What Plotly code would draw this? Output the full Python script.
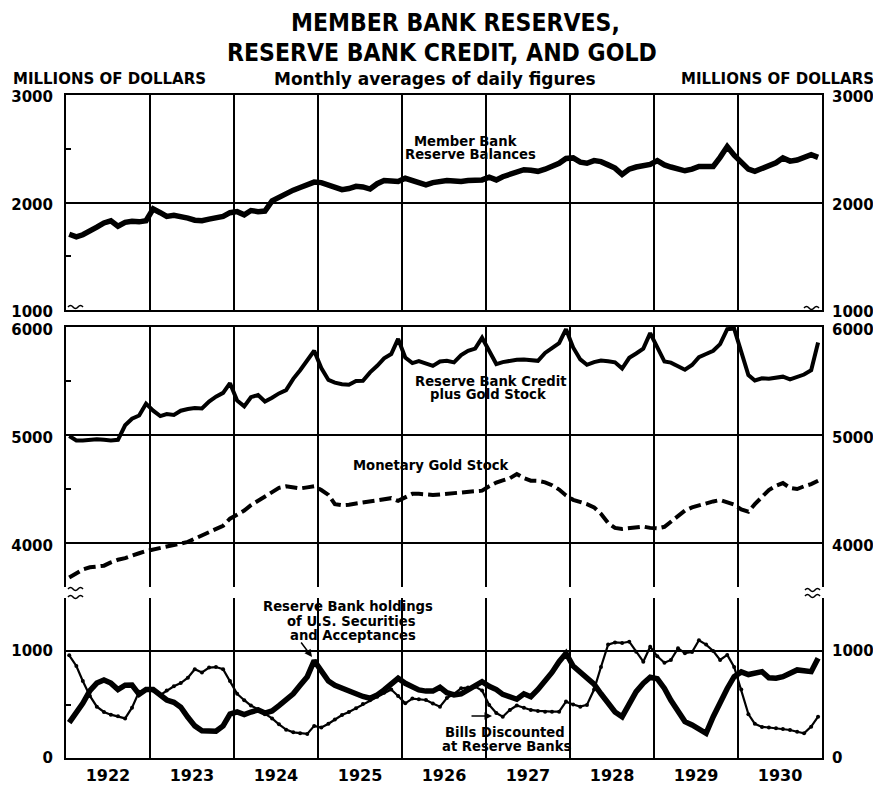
import plotly.graph_objects as go

# ---------------- data (millions of dollars, monthly averages 1922-1930) ----------------
years = list(range(1922, 1931))
months = [f"{y}-{m:02d}-15" for y in years for m in range(1, 13)]

member_reserves = [
    1705, 1680, 1700, 1730, 1770, 1810, 1830, 1780, 1815, 1825, 1820, 1830,   # 1922
    1940, 1905, 1870, 1880, 1870, 1855, 1835, 1830, 1845, 1855, 1870, 1905,   # 1923
    1915, 1885, 1925, 1915, 1920, 2015, 2050, 2080, 2115, 2140, 2165, 2190,   # 1924
    2185, 2160, 2140, 2120, 2130, 2150, 2145, 2125, 2175, 2205, 2200, 2195,   # 1925
    2225, 2200, 2180, 2165, 2185, 2200, 2205, 2200, 2195, 2205, 2205, 2210,   # 1926
    2235, 2210, 2240, 2265, 2290, 2305, 2300, 2290, 2310, 2335, 2365, 2410,   # 1927
    2415, 2375, 2365, 2390, 2380, 2350, 2320, 2260, 2310, 2330, 2345, 2355,   # 1928
    2390, 2350, 2330, 2310, 2295, 2310, 2335, 2335, 2335, 2420, 2520, 2440,   # 1929
    2380, 2310, 2290, 2320, 2335, 2370, 2415, 2385, 2395, 2420, 2445, 2420,   # 1930
]

credit_plus_gold = [
    4990, 4950, 4950, 4957, 4960, 4955, 4950, 4955, 5090, 5150, 5180, 5290,
    5225, 5175, 5194, 5185, 5225, 5240, 5250, 5245, 5310, 5355, 5390, 5480,
    5320, 5265, 5350, 5370, 5310, 5345, 5385, 5415, 5520, 5600, 5690, 5780,
    5620, 5510, 5485, 5470, 5465, 5500, 5502, 5580, 5641, 5710, 5750, 5890,
    5718, 5666, 5685, 5660, 5640, 5680, 5687, 5672, 5740, 5780, 5800, 5900,
    5770, 5657, 5675, 5687, 5697, 5700, 5690, 5687, 5760, 5800, 5850, 5980,
    5811, 5700, 5650, 5675, 5690, 5683, 5673, 5615, 5715, 5755, 5800, 5943,
    5820, 5680, 5670, 5640, 5604, 5648, 5720, 5750, 5780, 5842, 5980, 5985,
    5760, 5555, 5505, 5525, 5520, 5530, 5540, 5515, 5535, 5560, 5600, 5857,
]

gold_stock = [
    3680, 3720, 3755, 3775, 3785, 3790, 3820, 3845, 3860, 3885, 3905, 3925,
    3940, 3955, 3968, 3975, 3990, 4010, 4040, 4070, 4100, 4130, 4160, 4225,
    4260, 4300, 4350, 4390, 4430, 4470, 4510, 4525, 4515, 4505, 4515, 4525,
    4490, 4445, 4360, 4350, 4355, 4365, 4375, 4385, 4395, 4405, 4415, 4390,
    4420, 4455, 4455, 4450, 4445, 4450, 4455, 4460, 4462, 4470, 4475, 4485,
    4525, 4560, 4580, 4600, 4639, 4600, 4577, 4575, 4562, 4535, 4495, 4440,
    4400, 4380, 4360, 4330, 4270, 4185, 4140, 4130, 4135, 4145, 4152, 4140,
    4135, 4150, 4195, 4250, 4300, 4330, 4350, 4371, 4385, 4398, 4380, 4355,
    4310, 4290, 4360, 4425, 4490, 4530, 4555, 4510, 4500, 4525, 4545, 4577,
]

securities_acceptances = [
    330, 420, 511, 630, 700, 729, 700, 640, 680, 682, 595, 640,
    640, 589, 542, 520, 475, 380, 300, 255, 246, 250, 300, 410,
    430, 405, 430, 449, 420, 440, 490, 540, 600, 680, 760, 910,
    820, 720, 680, 651, 630, 600, 575, 558, 590, 636, 690, 745,
    698, 670, 636, 625, 625, 660, 610, 589, 600, 636, 670, 713,
    670, 640, 595, 570, 549, 600, 573, 640, 720, 800, 900, 979,
    860, 800, 745, 690, 600, 520, 430, 386, 500, 620, 698, 755,
    740, 650, 540, 440, 340, 309, 270, 231, 386, 520, 650, 760,
    805, 780, 790, 807, 750, 745, 760, 790, 823, 815, 807, 932,
]

bills_discounted = [
    960, 860, 720, 580, 480, 430, 405, 390, 370, 470, 620, 640,
    630, 589, 630, 670, 700, 750, 830, 800, 845, 850, 830, 720,
    600, 540, 490, 455, 410, 370, 315, 265, 240, 231, 225, 300,
    285, 320, 360, 402, 430, 465, 505, 540, 573, 610, 640, 580,
    511, 555, 550, 542, 510, 480, 560, 600, 651, 660, 667, 630,
    496, 420, 386, 449, 490, 470, 449, 440, 433, 433, 433, 527,
    500, 480, 496, 640, 850, 1060, 1080, 1075, 1087, 994, 900, 1040,
    950, 890, 916, 1025, 980, 990, 1100, 1060, 1000, 916, 963, 850,
    640, 410, 320, 290, 285, 278, 270, 262, 245, 231, 293, 386,
]

top_ticks = [1000, 2000, 3000]
mid_ticks = [4000, 5000, 6000]
low_ticks = [0, 1000]

# ---------------- layout geometry ----------------
# page coordinates (the browser page adds an 8px body margin around the figure)
OFF = 8
PAGE_W, PAGE_H = 881, 785
W, H = PAGE_W - OFF, PAGE_H - OFF
L, R, T, B = 66, 822, 95, 758          # plot area in page pixels


def px(x):
    return (x - L) / (R - L)


def py(y):
    return (B - y) / (B - T)


INK = "black"
NUM_FONT = dict(family="DejaVu Sans", size=15, color=INK, weight="bold")
YEAR_FONT = dict(family="DejaVu Sans", size=16, color=INK, weight="bold")
LBL_FONT = dict(family="DejaVu Sans", size=13.2, color=INK, weight="bold")

fig = go.Figure()

fig.add_trace(go.Scatter(x=months, y=member_reserves, xaxis="x", yaxis="y",
                         mode="lines", line=dict(color=INK, width=5.5), hoverinfo="skip"))
fig.add_trace(go.Scatter(x=months, y=credit_plus_gold, xaxis="x2", yaxis="y2",
                         mode="lines", line=dict(color=INK, width=4), hoverinfo="skip"))
fig.add_trace(go.Scatter(x=months, y=gold_stock, xaxis="x2", yaxis="y2",
                         mode="lines", line=dict(color=INK, width=4, dash="12px,5px"),
                         hoverinfo="skip"))
fig.add_trace(go.Scatter(x=months, y=bills_discounted, xaxis="x3", yaxis="y3",
                         mode="lines+markers", line=dict(color=INK, width=2.2),
                         marker=dict(color=INK, size=4), hoverinfo="skip"))
fig.add_trace(go.Scatter(x=months, y=securities_acceptances, xaxis="x3", yaxis="y3",
                         mode="lines", line=dict(color=INK, width=5.5), hoverinfo="skip"))

# invisible copies so that the right-hand (mirrored) value axes are drawn
for series, ax_x, ax_y in [(member_reserves, "x", "y4"), (credit_plus_gold, "x2", "y5"),
                           (securities_acceptances, "x3", "y6")]:
    fig.add_trace(go.Scatter(x=months, y=series, xaxis=ax_x, yaxis=ax_y, mode="lines",
                             opacity=0, line=dict(width=0.1), hoverinfo="skip"))

x_common = dict(type="date", range=["1922-01-01", "1931-01-01"], dtick="M12",
                tick0="1922-01-01", showgrid=True, gridcolor=INK, gridwidth=1.5,
                zeroline=False, ticks="", linecolor=INK, linewidth=2, automargin=False)

dom_top = [py(310), 1.0]
dom_mid = [py(587), py(327)]
dom_low = [0.0, py(598)]

rng_top = [1000, 3000]
rng_mid = [4000 - (587 - 543) / 108 * 1000, 6000]
rng_low = [0, (B - 598) / 107 * 1000]

y_common = dict(showgrid=True, gridcolor=INK, gridwidth=1.5, zeroline=False,
                showline=True, mirror=True, linecolor=INK, linewidth=2, ticks="",
                tickfont=NUM_FONT, ticklabelstandoff=8, automargin=False)
y_right = dict(side="right", showgrid=False, zeroline=False, ticks="", showline=False,
               tickfont=NUM_FONT, ticklabelstandoff=9, automargin=False)
minor_style = dict(ticks="inside", ticklen=5, tickcolor=INK, tickwidth=1.5, showgrid=False)

fig.update_layout(
    width=W, height=H,
    margin=dict(l=L - OFF, r=W - (R - OFF), t=T - OFF, b=H - (B - OFF), pad=0,
                autoexpand=False),
    paper_bgcolor="white", plot_bgcolor="white",
    showlegend=False,
    xaxis=dict(**x_common, anchor="y", showline=True, mirror=True, showticklabels=False),
    xaxis2=dict(**x_common, anchor="y2", matches="x", side="top", showline=True,
                mirror=False, showticklabels=False),
    xaxis3=dict(**x_common, anchor="y3", matches="x", showline=True, mirror=False,
                showticklabels=True, ticklabelmode="period", tickformat="%Y",
                tickfont=YEAR_FONT, ticklabelstandoff=2),
    yaxis=dict(**y_common, domain=dom_top, range=rng_top, tickvals=top_ticks, anchor="x",
               ticklabelshift=2, minor=dict(tickvals=[1500, 2500], **minor_style)),
    yaxis2=dict(**y_common, domain=dom_mid, range=rng_mid, tickvals=mid_ticks, anchor="x2",
                ticklabelshift=3, minor=dict(tickvals=[4500, 5500], **minor_style)),
    yaxis3=dict(**y_common, domain=dom_low, range=rng_low, tickvals=low_ticks, anchor="x3",
                minor=dict(tickvals=[500], **minor_style)),
    yaxis4=dict(**y_right, overlaying="y", anchor="x", range=rng_top, tickvals=top_ticks,
                ticklabelshift=2),
    yaxis5=dict(**y_right, overlaying="y2", anchor="x2", range=rng_mid, tickvals=mid_ticks,
                ticklabelshift=3),
    yaxis6=dict(**y_right, overlaying="y3", anchor="x3", range=rng_low, tickvals=low_ticks),
)

TITLE_FONT = dict(family="DejaVu Sans Condensed", size=24.5, color=INK, weight="bold")
HEAD_FONT = dict(family="DejaVu Sans", size=15, color=INK, weight="bold")
SUB_FONT = dict(family="DejaVu Sans", size=17, color=INK, weight="bold")

ann = [
    dict(text="MEMBER BANK RESERVES,", x=px(455), y=py(23), font=TITLE_FONT),
    dict(text="RESERVE BANK CREDIT, AND GOLD", x=px(442), y=py(52), font=TITLE_FONT),
    dict(text="MILLIONS OF DOLLARS", x=px(12), y=py(79), xanchor="left", font=HEAD_FONT),
    dict(text="Monthly averages of daily figures", x=px(435), y=py(79), font=SUB_FONT),
    dict(text="MILLIONS OF DOLLARS", x=px(875), y=py(79), xanchor="right", font=HEAD_FONT),
    # series labels, one annotation per line (the original sets them tightly)
    dict(text="Member Bank", x=px(466), y=py(141), font=LBL_FONT),
    dict(text="Reserve Balances", x=px(470), y=py(154), font=LBL_FONT),
    dict(text="Reserve Bank Credit", x=px(491), y=py(381), font=LBL_FONT),
    dict(text="plus Gold Stock", x=px(488), y=py(395), font=LBL_FONT),
    dict(text="Monetary Gold Stock", x=px(431), y=py(465), font=LBL_FONT),
    dict(text="Reserve Bank holdings", x=px(348), y=py(606), font=LBL_FONT),
    dict(text="of U.S. Securities", x=px(351), y=py(621), font=LBL_FONT),
    dict(text="and Acceptances", x=px(353), y=py(635), font=LBL_FONT),
    dict(text="Bills Discounted", x=px(505), y=py(732), font=LBL_FONT),
    dict(text="at Reserve Banks", x=px(506), y=py(746), font=LBL_FONT),
]
for a in ann:
    a.setdefault("xanchor", "center")
    fig.add_annotation(xref="paper", yref="paper", yanchor="middle", showarrow=False,
                       borderpad=0, **a)

# white knock-outs behind the label blocks (interrupt grid lines, stay under the data)
for x0, y0, x1, y1 in [(403, 133, 537, 161), (416, 373, 567, 402), (352, 457, 511, 473),
                       (263, 598, 432, 642), (441, 724, 566, 753)]:
    fig.add_shape(type="rect", xref="paper", yref="paper", x0=px(x0), x1=px(x1),
                  y0=py(y1), y1=py(y0), fillcolor="white", line=dict(width=0),
                  layer="between")

# arrows
fig.add_annotation(xref="paper", yref="paper", x=px(312), y=py(657), ax=-12, ay=-16,
                   text="", showarrow=True, arrowhead=2, arrowsize=1, arrowwidth=1.5,
                   arrowcolor=INK)
fig.add_annotation(xref="paper", yref="paper", x=px(492), y=py(716), ax=-22, ay=0,
                   text="", showarrow=True, arrowhead=2, arrowsize=1, arrowwidth=1.5,
                   arrowcolor=INK)

# small wavy axis-break marks
wave = "M0,0 Q2.5,3 5,0 T10,0 T15,0"
for bx, by in [(68, 307), (804, 308), (68, 589), (68, 597), (805, 590), (805, 596)]:
    fig.add_shape(type="path", path=wave, xref="paper", yref="paper",
                  xsizemode="pixel", ysizemode="pixel", xanchor=px(bx), yanchor=py(by),
                  line=dict(color=INK, width=1.5))

fig.write_html("out.html")
